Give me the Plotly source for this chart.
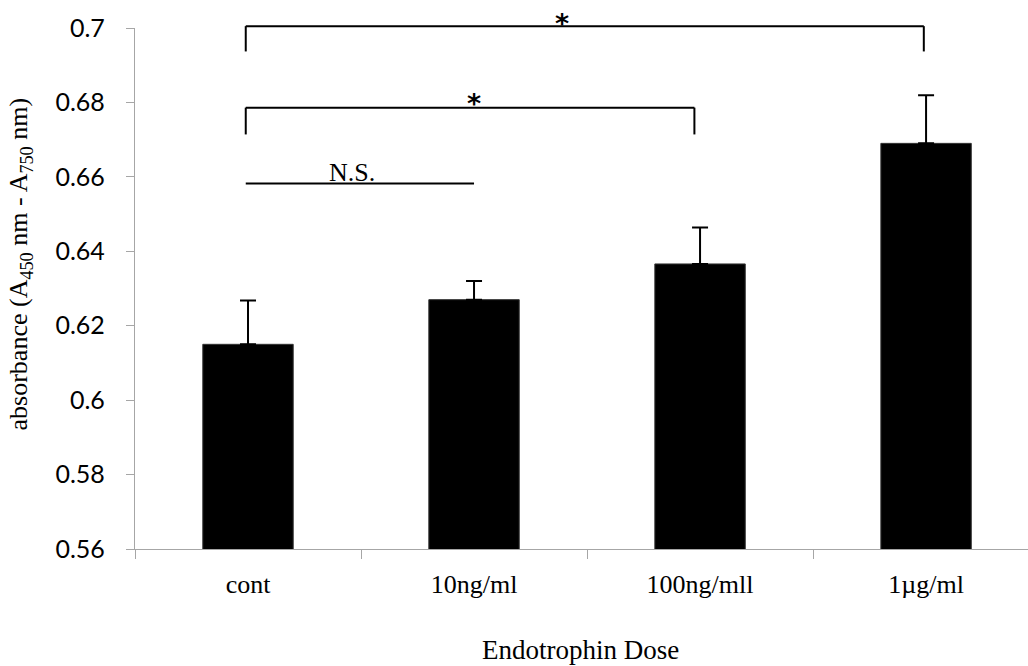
import plotly.graph_objects as go

# ---- data ----
categories = ["cont", "10ng/ml", "100ng/mll", "1µg/ml"]
absorbance = [0.615, 0.627, 0.6366, 0.669]
error_plus = [0.0118, 0.005, 0.0098, 0.0129]
error_minus = [0, 0, 0, 0]
y_tick_vals = [0.56, 0.58, 0.60, 0.62, 0.64, 0.66, 0.68, 0.70]
y_tick_text = ["0.56", "0.58", "0.6", "0.62", "0.64", "0.66", "0.68", "0.7"]
Y_MIN, Y_MAX = 0.56, 0.70

# significance brackets: (left x, right x, bar level, leg end level)
brackets = [(-0.01, 2.99, 0.7005, 0.6937), (-0.01, 1.975, 0.6786, 0.6714)]
ns_line = (-0.01, 1.0, 0.6582)
sig_labels = [(1.39, 0.7031, "*"), (1.0, 0.6815, "*")]
ns_label = (0.46, 0.6612, "N.S.")


def py(v):
    return (v - Y_MIN) / (Y_MAX - Y_MIN)


fig = go.Figure()
fig.add_trace(go.Bar(
    x=categories,
    y=absorbance,
    marker=dict(color="black", line=dict(color="#333333", width=1)),
    width=0.4,
    error_y=dict(type="data", symmetric=False, array=error_plus,
                 arrayminus=error_minus, color="black", thickness=2, width=8),
    showlegend=False,
))

shapes = []
line_style = dict(color="black", width=2)
for x0, x1, top, leg in brackets:
    shapes.append(dict(type="line", xref="x", yref="paper", x0=x0, x1=x1,
                       y0=py(top), y1=py(top), line=line_style))
    shapes.append(dict(type="line", xref="x", yref="paper", x0=x0, x1=x0,
                       y0=py(top), y1=py(leg), line=line_style))
    shapes.append(dict(type="line", xref="x", yref="paper", x0=x1, x1=x1,
                       y0=py(top), y1=py(leg), line=line_style))
shapes.append(dict(type="line", xref="x", yref="paper", x0=ns_line[0], x1=ns_line[1],
                   y0=py(ns_line[2]), y1=py(ns_line[2]), line=line_style))

annotations = []
for x, y, t in sig_labels:
    annotations.append(dict(x=x, y=py(y), xref="x", yref="paper", text="<b>" + t + "</b>",
                            showarrow=False, xanchor="center", yanchor="middle",
                            yshift=-7,
                            font=dict(family="DejaVu Sans", size=27, color="black")))
annotations.append(dict(x=ns_label[0], y=py(ns_label[1]), xref="x", yref="paper",
                        text=ns_label[2], showarrow=False, xanchor="center",
                        yanchor="middle",
                        font=dict(family="Liberation Serif", size=26, color="black")))
# axis titles
annotations.append(dict(x=-0.1277, y=0.548, xref="paper", yref="paper",
                        text="absorbance (A<sub>450</sub> nm - A<sub>750</sub> nm)",
                        textangle=-90, showarrow=False, xanchor="center", yanchor="middle",
                        font=dict(family="Liberation Serif", size=26, color="black")))
annotations.append(dict(x=0.4994, y=-0.1934, xref="paper", yref="paper",
                        text="Endotrophin Dose", showarrow=False,
                        xanchor="center", yanchor="middle",
                        font=dict(family="Liberation Serif", size=27, color="black")))

fig.update_layout(
    width=1028, height=666,
    margin=dict(l=135, r=0, t=28, b=117),
    plot_bgcolor="white", paper_bgcolor="white",
    bargap=0.6,
    shapes=shapes,
    annotations=annotations,
    xaxis=dict(
        type="category", range=[-0.5, 3.451],
        showline=True, linecolor="#a6a6a6", linewidth=1.3,
        ticks="outside", tickson="boundaries", ticklen=9, tickcolor="#a6a6a6",
        tickwidth=1.3, showgrid=False, zeroline=False,
        tickfont=dict(family="Liberation Serif", size=26, color="black"),
        ticklabelstandoff=12,
    ),
    yaxis=dict(
        range=[Y_MIN, Y_MAX], tickvals=y_tick_vals, ticktext=y_tick_text,
        showline=True, linecolor="#a6a6a6", linewidth=1.3,
        ticks="outside", ticklen=8, tickcolor="#a6a6a6", tickwidth=1.3,
        showgrid=False, zeroline=False,
        tickfont=dict(family="Lato", size=25, color="black"),
        ticklabelstandoff=16,
    ),
)

fig.write_html("out.html",
               config={"displayModeBar": False},
               post_script="document.body.style.margin='0';document.body.style.overflow='hidden';")
